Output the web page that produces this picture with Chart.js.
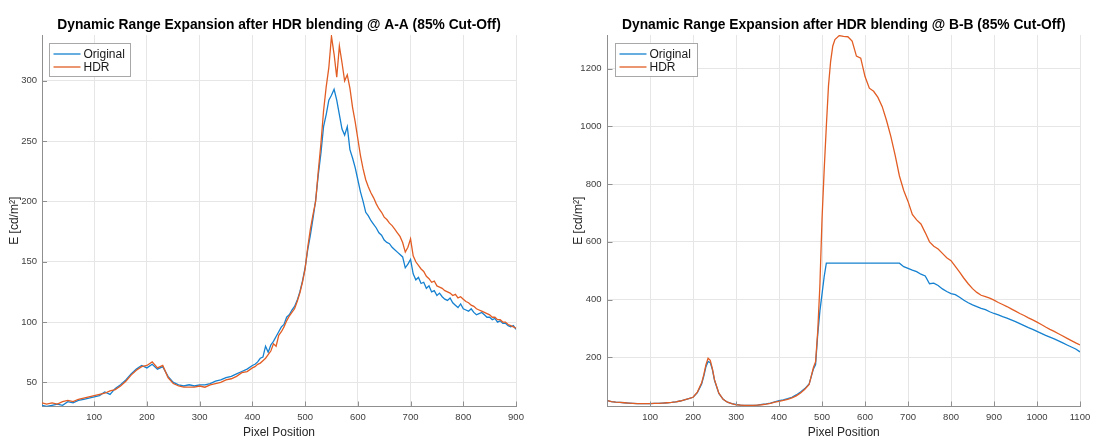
<!DOCTYPE html>
<html>
<head>
<meta charset="utf-8">
<script src="https://cdn.jsdelivr.net/npm/chart.js@4"></script>
<style>
html, body { margin: 0; padding: 0; background: #fff; }
#wrap { position: relative; width: 1110px; height: 443px; overflow: hidden; }
canvas { position: absolute; top: 0; }
#chartA { left: 0; }
#chartB { left: 555px; }
</style>
</head>
<body>
<div id="wrap">
  <canvas id="chartA" width="555" height="443"></canvas>
  <canvas id="chartB" width="555" height="443"></canvas>
</div>
<script>
// ---- Section A-A ----
const xA = [1,10,20,30,40,50,60,70,80,90,100,110,120,130,140,150,160,170,180,190,200,210,220,230,240,250,260,270,280,290,300,310,320,330,340,350,360,370,380,390,
  400,405,410,415,420,425,430,435,440,445,450,455,460,465,470,475,480,485,490,495,
  500,505,510,515,520,525,530,535,540,545,550,555,560,565,570,575,580,585,590,595,600,605,610,615,620,625,630,635,640,645,650,655,660,665,670,675,680,685,690,695,700,
  705,710,715,720,725,730,735,740,745,750,755,760,765,770,775,780,785,790,795,800,805,810,815,820,825,830,835,840,845,850,855,860,865,870,875,880,885,890,895,900];
const origA = [31,30,31,32,31,34,33,35,36,37,
  38,39,42,40,45,48,52,57,61,64,
  62,65,61,63,55,50,48,47,48,47,
  48,48,49,51,52,54,55,57,59,61,
  64,65,67,70,71,80,75,81,84,88,92,96,98,104,106,110,113,118,125,134,
  145,160,172,186,201,222,240,262,272,284,
  288,293,284,272,260,255,262,243,236,228,
  218,208,200,191,188,184,181,178,174,172,
  168,166,165,162,160,158,156,154,145,148,
  152,
  140,135,137,132,133,128,130,125,126,122,124,121,119,118,120,116,114,112,115,111,
  110,109,111,108,106,107,108,106,104,104,102,103,100,101,99,99,97,96,97,94];
const hdrA = [33,32,33,32,34,35,34,36,37,38,
  39,40,41,43,44,47,51,56,60,63,
  64,67,62,64,54,49,47,46,46,46,
  47,46,48,49,50,52,53,55,58,59,
  62,63,65,66,68,70,73,76,82,80,89,92,96,101,105,108,111,117,124,133,
  144,162,177,189,200,225,248,275,295,311,
  337,322,303,329,315,300,305,294,278,266,
  252,238,227,218,212,207,203,198,194,191,
  187,185,182,180,177,174,171,166,158,162,
  169,
  155,150,147,144,142,138,136,133,134,130,129,128,126,125,124,122,123,120,121,119,
  117,116,114,113,111,110,109,108,107,106,104,104,102,102,100,100,98,97,96,95];
const xTicksA = [100,200,300,400,500,600,700,800,900];
const yTicksA = [50,100,150,200,250,300];

// ---- Section B-B ----
const xB = [1,10,20,30,40,50,60,70,80,90,100,110,120,130,140,150,160,170,180,190,200,210,220,
  225,230,235,240,245,
  250,260,270,280,290,300,310,320,330,340,350,360,370,380,390,400,410,420,430,440,450,460,470,480,
  485,490,495,500,505,510,515,520,525,530,
  540,550,560,570,580,590,600,610,620,630,640,650,660,670,680,690,700,710,720,730,740,750,760,770,780,790,800,
  810,820,830,840,850,860,870,880,890,900,910,920,930,940,950,960,970,980,990,1000,1010,1020,1030,1040,1050,1060,1070,1080,1090,1100];
const origB = [50,47,45,44,43,42,41,40,40,40,40,41,41,42,43,44,46,49,53,57,62,78,108,
  135,168,186,182,158,
  120,75,55,45,40,37,35,34,34,34,35,37,39,42,46,50,53,57,62,70,80,92,108,160,
  175,280,360,420,480,526,526,526,526,526,
  526,526,526,526,526,526,526,526,526,526,526,526,526,526,526,
  514,508,502,497,488,482,455,457,449,437,
  428,421,417,408,398,389,382,376,370,365,
  358,352,347,341,336,330,324,317,310,303,
  297,290,283,276,270,264,257,250,243,236,
  229,219];
const hdrB = [50,47,45,44,43,42,41,40,40,40,40,41,41,42,43,44,46,49,53,57,62,80,112,
  140,175,197,190,160,
  122,76,55,45,40,36,35,34,34,34,35,36,38,41,45,48,51,55,60,67,77,90,106,165,
  185,290,450,680,850,1000,1140,1225,1278,1300,
  1314,1311,1310,1295,1243,1236,1172,1132,1121,1100,
  1068,1020,965,900,828,778,740,695,676,662,
  632,600,585,575,560,545,535,515,495,474,
  455,438,425,415,410,405,398,390,383,376,
  368,360,352,345,337,330,322,314,305,297,
  290,282,274,266,258,250,243];
const xTicksB = [100,200,300,400,500,600,700,800,900,1000,1100];
const yTicksB = [200,400,600,800,1000,1200];

const BLUE = '#1581d0';
const ORANGE = '#e25d24';
const GRID = '#e6e6e6';
const AXIS = '#8f8f8f';
const TICK = '#404040';
const FONT = '"Liberation Sans", Arial, Helvetica, sans-serif';

Chart.defaults.font.family = FONT;

// title over the plot area, inward tick marks and the boxed legend (MATLAB look)
const decorations = {
  id: 'decorations',
  afterDraw(chart, args, opts) {
    const { ctx, chartArea: a, scales } = chart;
    ctx.save();

    ctx.strokeStyle = AXIS;
    ctx.lineWidth = 1;
    ctx.beginPath();
    scales.x.ticks.forEach(t => {
      const px = Math.round(scales.x.getPixelForValue(t.value)) + 0.5;
      ctx.moveTo(px, a.bottom);
      ctx.lineTo(px, a.bottom - 5);
    });
    scales.y.ticks.forEach(t => {
      const py = Math.round(scales.y.getPixelForValue(t.value)) + 0.5;
      ctx.moveTo(a.left, py);
      ctx.lineTo(a.left + 5, py);
    });
    ctx.stroke();

    ctx.fillStyle = '#000';
    ctx.font = 'bold 13.8px ' + FONT;
    ctx.textAlign = 'center';
    ctx.textBaseline = 'middle';
    ctx.fillText(opts.title, (a.left + a.right) / 2, 25);

    const lx = Math.round(a.left + 7) + 0.5, ly = Math.round(a.top + 8) + 0.5;
    const lw = opts.legendWidth, lh = 33;
    ctx.fillStyle = '#fff';
    ctx.fillRect(lx, ly, lw, lh);
    ctx.strokeStyle = '#a8a8a8';
    ctx.strokeRect(lx, ly, lw, lh);
    ctx.font = '12px ' + FONT;
    ctx.textAlign = 'left';
    chart.data.datasets.forEach((ds, i) => {
      const cy = ly + 10.5 + i * 13;
      ctx.strokeStyle = ds.borderColor;
      ctx.lineWidth = 1.3;
      ctx.beginPath();
      ctx.moveTo(lx + 4, cy);
      ctx.lineTo(lx + 31, cy);
      ctx.stroke();
      ctx.fillStyle = '#1a1a1a';
      ctx.fillText(ds.label, lx + 34, cy + 0.5);
    });
    ctx.restore();
  }
};

function makeChart(id, cfg) {
  const toPoints = arr => cfg.x.map((v, i) => ({ x: v, y: arr[i] }));
  return new Chart(document.getElementById(id), {
    type: 'line',
    data: {
      datasets: [
        { label: 'Original', data: toPoints(cfg.orig), borderColor: BLUE, borderWidth: 1.3, pointRadius: 0, order: 1 },
        { label: 'HDR', data: toPoints(cfg.hdr), borderColor: ORANGE, borderWidth: 1.3, pointRadius: 0, order: 0 }
      ]
    },
    options: {
      responsive: false,
      animation: false,
      devicePixelRatio: 1,
      layout: { padding: { top: 35, right: cfg.padRight, left: 0, bottom: 0 } },
      plugins: {
        legend: { display: false },
        tooltip: { enabled: false },
        decorations: { title: cfg.title, legendWidth: cfg.legendWidth }
      },
      scales: {
        x: {
          type: 'linear',
          min: cfg.xMin, max: cfg.xMax,
          afterBuildTicks: s => { s.ticks = cfg.xTicks.map(v => ({ value: v })); },
          afterFit: s => { s.height = 36.5; },
          grid: { color: GRID, drawTicks: false },
          border: { color: AXIS },
          ticks: { padding: 5, color: TICK, autoSkip: false, maxRotation: 0, font: { size: 9.5 }, callback: v => String(v) },
          title: { display: true, text: 'Pixel Position', color: '#262626', font: { size: 12 }, padding: { top: 0, bottom: 3 } }
        },
        y: {
          min: cfg.yMin, max: cfg.yMax,
          afterBuildTicks: s => { s.ticks = cfg.yTicks.map(v => ({ value: v })); },
          afterFit: s => { s.width = cfg.yAxisW; },
          grid: { color: GRID, drawTicks: false },
          border: { color: AXIS },
          ticks: { padding: cfg.yTickPad, color: TICK, autoSkip: false, font: { size: 9.5 }, callback: v => String(v) },
          title: { display: true, text: 'E [cd/m²]', color: '#262626', font: { size: 12 }, padding: { top: cfg.yTitlePad, bottom: 0 } }
        }
      }
    },
    plugins: [decorations]
  });
}

makeChart('chartA', {
  title: 'Dynamic Range Expansion after HDR blending @ A-A (85% Cut-Off)',
  x: xA, orig: origA, hdr: hdrA, xTicks: xTicksA, yTicks: yTicksA,
  xMin: 1, xMax: 900, yMin: 30, yMax: 338,
  yAxisW: 42, padRight: 39, yTickPad: 5, yTitlePad: 7, legendWidth: 81
});

makeChart('chartB', {
  title: 'Dynamic Range Expansion after HDR blending @ B-B (85% Cut-Off)',
  x: xB, orig: origB, hdr: hdrB, xTicks: xTicksB, yTicks: yTicksB,
  xMin: 1, xMax: 1100, yMin: 30, yMax: 1316,
  yAxisW: 52.5, padRight: 30, yTickPad: 6, yTitlePad: 16, legendWidth: 82
});
</script>
</body>
</html>
